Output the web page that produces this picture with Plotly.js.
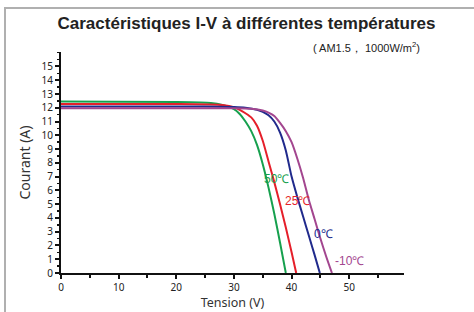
<!DOCTYPE html>
<html>
<head>
<meta charset="utf-8">
<script src="https://cdn.plot.ly/plotly-3.0.1.min.js"></script>
<style>
html,body{margin:0;padding:0;background:#fff;}
#wrap{position:relative;width:474px;height:312px;}
#chart{position:absolute;left:0;top:0;width:474px;height:312px;}
#frame{position:absolute;left:4px;top:7px;width:480px;height:320px;border-left:2px solid #b0b0b0;border-top:2px solid #b0b0b0;pointer-events:none;}
</style>
</head>
<body>
<div id="wrap"><div id="chart"></div><div id="frame"></div></div>
<script>
// Data
const seriesNames = ["50℃", "25℃", "0℃", "-10℃"];
const v50 = [0, 20, 26, 28, 30, 31, 32, 33, 34, 35, 36, 37, 38, 39];
const i50 = [12.45, 12.42, 12.35, 12.2, 11.9, 11.55, 11.0, 10.3, 9.3, 7.9, 6.2, 4.3, 2.2, 0];
const v25 = [0, 20, 28, 30, 31, 32, 33, 34, 35, 36, 37, 38, 39, 40, 40.8];
const i25 = [12.28, 12.27, 12.2, 12.05, 11.85, 11.6, 11.3, 10.7, 9.6, 8.1, 6.6, 5.0, 3.3, 1.5, 0];
const v0 = [0, 20, 30, 32, 34, 35, 36, 37, 38, 39, 40, 41, 42, 43, 44, 44.9];
const i0 = [12.1, 12.1, 12.05, 12.0, 11.85, 11.7, 11.45, 11.0, 10.2, 8.9, 7.0, 5.5, 4.1, 2.7, 1.3, 0];
const vm10 = [0, 30, 33, 35, 36, 37, 38, 39, 40, 41, 42, 43, 44, 45, 46, 47];
const im10 = [11.97, 11.97, 11.93, 11.8, 11.65, 11.4, 10.9, 10.3, 9.5, 8.3, 6.9, 5.3, 3.9, 2.5, 1.2, 0];
const labelV = [37.4, 41.1, 45.5, 50.1];
const labelI = [6.8, 5.2, 2.8, 0.85];
const colors = ["#16a04e", "#e51f2a", "#202a8c", "#a3468f"];
const xTicks = [0, 10, 20, 30, 40, 50];
const yTicks = [0,1,2,3,4,5,6,7,8,9,10,11,12,13,14,15];

const xs = [v50, v25, v0, vm10];
const ys = [i50, i25, i0, im10];
const traces = xs.map((x, k) => ({
  x: x, y: ys[k], type: "scatter", mode: "lines", name: seriesNames[k],
  line: {color: colors[k], width: 2, shape: "spline", smoothing: 0.6},
  hoverinfo: "skip"
}));

const annotations = seriesNames.map((n, k) => ({
  x: labelV[k], y: labelI[k], xref: "x", yref: "y", text: n, showarrow: false,
  font: {family: "Liberation Sans, Arial, sans-serif", size: 12, color: colors[k]}
}));
annotations.push({
  xref: "paper", yref: "paper", x: 0.89, y: 1.0, yshift: 5, xanchor: "center", yanchor: "middle",
  text: "( AM1.5， 1000W/m<sup>2</sup>)", showarrow: false,
  font: {family: "Liberation Sans, Arial, sans-serif", size: 11, color: "#222"}
});

const layout = {
  width: 474, height: 312,
  margin: {l: 61, r: 70, t: 52, b: 39},
  paper_bgcolor: "rgba(0,0,0,0)", plot_bgcolor: "rgba(0,0,0,0)",
  showlegend: false,
  title: {text: "<b>Caractéristiques I-V à différentes températures</b>", x: 0.52, xanchor: "center", y: 0.926, yanchor: "middle",
    font: {family: "Liberation Sans, Arial, sans-serif", size: 17, color: "#222"}},
  xaxis: {
    range: [0, 59.5], tickvals: xTicks, ticktext: xTicks.map(String),
    showgrid: false, zeroline: false, showline: true, linecolor: "#111", linewidth: 2,
    ticks: "outside", ticklen: 4, tickwidth: 2, tickcolor: "#111",
    minor: {dtick: 5, ticks: "outside", ticklen: 3, tickwidth: 2, tickcolor: "#111", showgrid: false},
    tickfont: {family: "Noto Sans, sans-serif", size: 10, color: "#222"},
    title: {text: "Tension (V)", standoff: 5, font: {family: "Noto Sans, sans-serif", size: 12.5, color: "#333"}}
  },
  yaxis: {
    range: [0, 16.05], tickvals: yTicks, ticktext: yTicks.map(String),
    showgrid: false, zeroline: false, showline: true, linecolor: "#111", linewidth: 2,
    ticks: "outside", ticklen: 4, tickwidth: 2, tickcolor: "#111",
    minor: {dtick: 0.5, ticks: "outside", ticklen: 2, tickwidth: 1.5, tickcolor: "#111", showgrid: false},
    tickfont: {family: "Noto Sans, sans-serif", size: 10, color: "#222"},
    title: {text: "Courant (A)", standoff: 8, font: {family: "Noto Sans, sans-serif", size: 14, color: "#333"}}
  },
  annotations: annotations
};

Plotly.newPlot("chart", traces, layout, {staticPlot: true, displayModeBar: false});
</script>
</body>
</html>
